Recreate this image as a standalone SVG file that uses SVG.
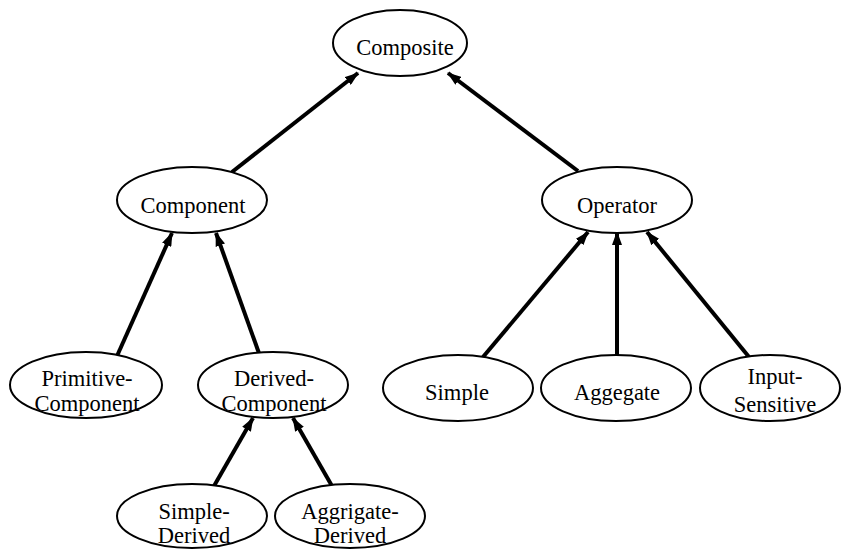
<svg xmlns="http://www.w3.org/2000/svg" width="841" height="549" viewBox="0 0 841 549">
  <defs>
    <marker id="arrow" viewBox="0 0 14 10" refX="13" refY="5" markerWidth="14" markerHeight="10" markerUnits="userSpaceOnUse" orient="auto">
      <path d="M0,0 L14,5 L0,10 Z" fill="#000"/>
    </marker>
  </defs>
  <style>
    .node ellipse { fill: #fff; stroke: #000; stroke-width: 2; }
    .node text { font-family: "Liberation Serif", "Times New Roman", serif; font-size: 22.5px; fill: #000; text-anchor: middle; }
    .edges line { stroke: #000; stroke-width: 4; marker-end: url(#arrow); }
  </style>
  <rect width="841" height="549" fill="#fff"/>

  <g class="edges">
    <line x1="232" y1="172" x2="358" y2="73"/>
    <line x1="578" y1="171" x2="448" y2="73"/>
    <line x1="117" y1="356" x2="172" y2="233"/>
    <line x1="260" y1="356" x2="216" y2="233"/>
    <line x1="483" y1="357" x2="588" y2="232"/>
    <line x1="617" y1="355" x2="617" y2="232"/>
    <line x1="749" y1="357" x2="647" y2="232"/>
    <line x1="214" y1="486" x2="253" y2="418"/>
    <line x1="332" y1="486" x2="293" y2="418"/>
  </g>

  <g id="composite" class="node">
    <ellipse cx="400" cy="43" rx="67" ry="33"/>
    <text x="405" y="55">Composite</text>
  </g>
  <g id="component" class="node">
    <ellipse cx="192" cy="200" rx="75" ry="33"/>
    <text x="193" y="213">Component</text>
  </g>
  <g id="operator" class="node">
    <ellipse cx="617" cy="200" rx="75" ry="33"/>
    <text x="617" y="213">Operator</text>
  </g>
  <g id="primitive-component" class="node">
    <ellipse cx="86" cy="385" rx="76" ry="33"/>
    <text x="87" y="386">Primitive-</text>
    <text x="87" y="411">Component</text>
  </g>
  <g id="derived-component" class="node">
    <ellipse cx="273" cy="385" rx="75" ry="33"/>
    <text x="274" y="386">Derived-</text>
    <text x="274" y="411">Component</text>
  </g>
  <g id="simple" class="node">
    <ellipse cx="458" cy="388" rx="75" ry="33"/>
    <text x="457" y="400">Simple</text>
  </g>
  <g id="aggegate" class="node">
    <ellipse cx="616" cy="388" rx="75" ry="33"/>
    <text x="617" y="400">Aggegate</text>
  </g>
  <g id="input-sensitive" class="node">
    <ellipse cx="770" cy="388" rx="70" ry="33"/>
    <text x="775" y="384">Input-</text>
    <text x="775" y="412">Sensitive</text>
  </g>
  <g id="simple-derived" class="node">
    <ellipse cx="192" cy="516" rx="75" ry="32"/>
    <text x="194" y="519">Simple-</text>
    <text x="194" y="543">Derived</text>
  </g>
  <g id="aggrigate-derived" class="node">
    <ellipse cx="350" cy="516" rx="75" ry="32"/>
    <text x="350" y="519">Aggrigate-</text>
    <text x="350" y="543">Derived</text>
  </g>
</svg>
